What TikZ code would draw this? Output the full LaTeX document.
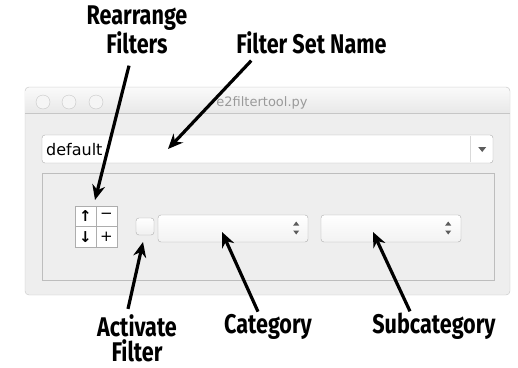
\documentclass[tikz,border=0pt]{standalone}
\usepackage{fontspec}
\setmainfont{DejaVu Sans}
\newfontfamily\notefont[FakeStretch=0.8]{Fira Sans}
\usetikzlibrary{arrows.meta}
\definecolor{frame}{HTML}{C6C6C6}
\definecolor{chrome}{HTML}{EEEEEE}
\definecolor{edge}{HTML}{ADADAD}
\definecolor{caption}{HTML}{9A9A9A}
\definecolor{glyph}{HTML}{5C5C5C}

\begin{document}
\begin{tikzpicture}[x=1pt,y=-1pt,
  note/.style={font=\notefont\bfseries\fontsize{27}{25}\selectfont,align=center,inner sep=0pt},
  widget/.style={draw=edge,rounded corners=3pt,inner sep=0pt},
  popup/.style={widget,top color=white,bottom color=black!5,minimum height=27pt},
  cell/.style={draw=edge,fill=white,minimum width=21pt,minimum height=20.5pt,inner sep=0pt,font=\fontsize{15}{15}\selectfont},
  callout/.style={-{Stealth[length=15pt,width=13pt]},line width=3.2pt,black}
]
\useasboundingbox (0,0) rectangle (518,367);

% window frame and title bar
\draw[frame,fill=chrome,rounded corners=4pt] (25,87) rectangle (510,295);
\path[top color=black!2,bottom color=black!9] (25.5,113) [rounded corners=4pt] -- (25.5,87.5) -- (509.5,87.5) [sharp corners] -- (509.5,113) -- cycle;
\draw[frame] (25,113) -- (510,113);
\foreach \x in {43,69,96}
  \draw[frame,fill=black!4] (\x,102) circle (7pt);
\node[anchor=base,inner sep=0pt,font=\fontsize{13}{13}\selectfont,text=caption] (title) at (262,106) {e2filtertool.py};

% filter set combo
\node[widget,fill=white,minimum width=451pt,minimum height=28pt] (setbox) at (267.5,149) {};
\draw[black!15] ([xshift=-23pt,yshift=-1pt]setbox.north east) -- ([xshift=-23pt,yshift=1pt]setbox.south east);
\fill[glyph] ([xshift=-15pt,yshift=2pt]setbox.east) -- ++(8,0) -- ++(-4,5) -- cycle;
\node[anchor=base west,inner sep=0pt,font=\fontsize{16}{16}\selectfont] (deftext) at (46,155) {default};

% filter row
\node[draw=edge!80,fill=chrome,minimum width=452pt,minimum height=107pt,inner sep=0pt] (group) at (268,226.5) {};
\node[cell] (up) at (85.5,216.25) {\bfseries ↑};
\node[cell] (minus) at (106.5,216.25) {−};
\node[cell] (down) at (85.5,236.75) {\bfseries ↓};
\node[cell] (plus) at (106.5,236.75) {+};
\node[widget,top color=white,bottom color=black!6,minimum width=18pt,minimum height=17pt] (check) at (145,226.5) {};
\node[popup,minimum width=150pt] (cat) at (233,228.5) {};
\node[popup,minimum width=140pt] (sub) at (391,228.5) {};
\foreach \p/\d in {cat/12,sub/13} {
  \fill[glyph] ([xshift=-\d pt]\p.east) ++(0,-7) -- ++(3,4) -- ++(-6,0) -- cycle;
  \fill[glyph] ([xshift=-\d pt]\p.east) ++(0,6) -- ++(3,-4) -- ++(-6,0) -- cycle;
}

% callouts
\node[note,anchor=base] (rearr) at (137,53) {Rearrange\\Filters};
\node[note,anchor=base] (setname) at (311.5,53) {Filter Set Name};
\node[note,anchor=base] (activ) at (137,361) {Activate\\Filter};
\node[note,anchor=base] (categ) at (268,333) {Category};
\node[note,anchor=base] (subcat) at (434,333) {Subcategory};

\coordinate (gridtip) at (95,200);
\coordinate (nametip) at (168,149);
\coordinate (checktip) at (143,242);
\coordinate (cattip) at (222,232);
\coordinate (subtip) at (373,232);

\draw[callout] ([xshift=-8pt,yshift=-12pt]rearr.south) -- (gridtip);
\draw[callout] ([xshift=15pt,yshift=-7pt]setname.south west) -- (nametip);
\draw[callout] ([xshift=-9pt,yshift=5pt]activ.north) -- (checktip);
\draw[callout] ([xshift=-10pt,yshift=2pt]categ.north) -- (cattip);
\draw[callout] ([xshift=-24pt,yshift=1pt]subcat.north) -- (subtip);
\end{tikzpicture}
\end{document}
